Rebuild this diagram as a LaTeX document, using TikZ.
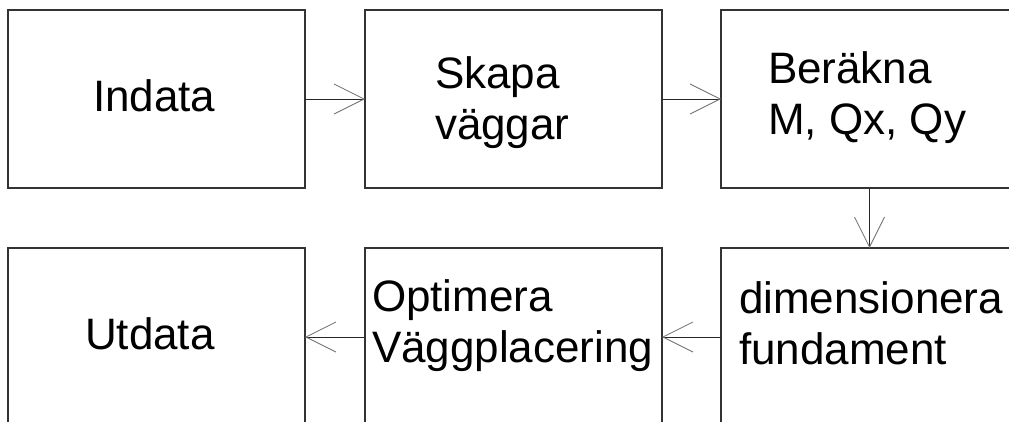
\documentclass[tikz,border=0pt]{standalone}
\usepackage{fontspec}
\setmainfont{Liberation Sans}
\usetikzlibrary{arrows.meta}
\begin{document}
\begin{tikzpicture}[x=1pt,y=-1pt,
  box/.style={draw=black!80, line width=1.1pt, minimum width=297pt, minimum height=178pt, inner sep=0pt, outer sep=0pt},
  txt/.style={anchor=base west, inner sep=0pt, outer sep=0pt, font=\fontsize{44}{51}\selectfont, text=black},
  conn/.style={draw=black!85, line width=0.9pt, -{Straight Barb[length=30pt, width=30pt, line width=0.8pt, color=black!55]}}]
\useasboundingbox (0,0) rectangle (1009,421);
\clip (0,0) rectangle (1009,421);
\fill[white] (0,0) rectangle (1009,421);
% boxes
\node[box] (b1) at (156.5,99) {};
\node[box] (b2) at (513.5,99) {};
\node[box] (b3) at (869.5,99) {};
\node[box] (b4) at (156.5,337) {};
\node[box] (b5) at (513.5,337) {};
\node[box] (b6) at (869.5,337) {};
% texts
\node[txt] (t1) at (93,111) {Indata};
\node[txt] (t2a) at (435,88) {Skapa};
\node[txt] (t2b) at (435,139) {väggar};
\node[txt] (t3a) at (768,83) {Beräkna};
\node[txt] (t3b) at (768,134) {M, Qx, Qy};
\node[txt] (t6a) at (739,313) {dimensionera};
\node[txt] (t6b) at (739,364) {fundament};
\node[txt] (t5a) at (372,311) {Optimera};
\node[txt] (t5b) at (372,362) {Väggplacering};
\node[txt] (t4) at (85,349) {Utdata};
% connectors
\draw[conn] (b1.east) -- (b2.west);
\draw[conn] (b2.east) -- (b3.west);
\draw[conn] (b3.south) -- (b6.north);
\draw[conn] (b6.west) -- (b5.east);
\draw[conn] (b5.west) -- (b4.east);
\end{tikzpicture}
\end{document}
